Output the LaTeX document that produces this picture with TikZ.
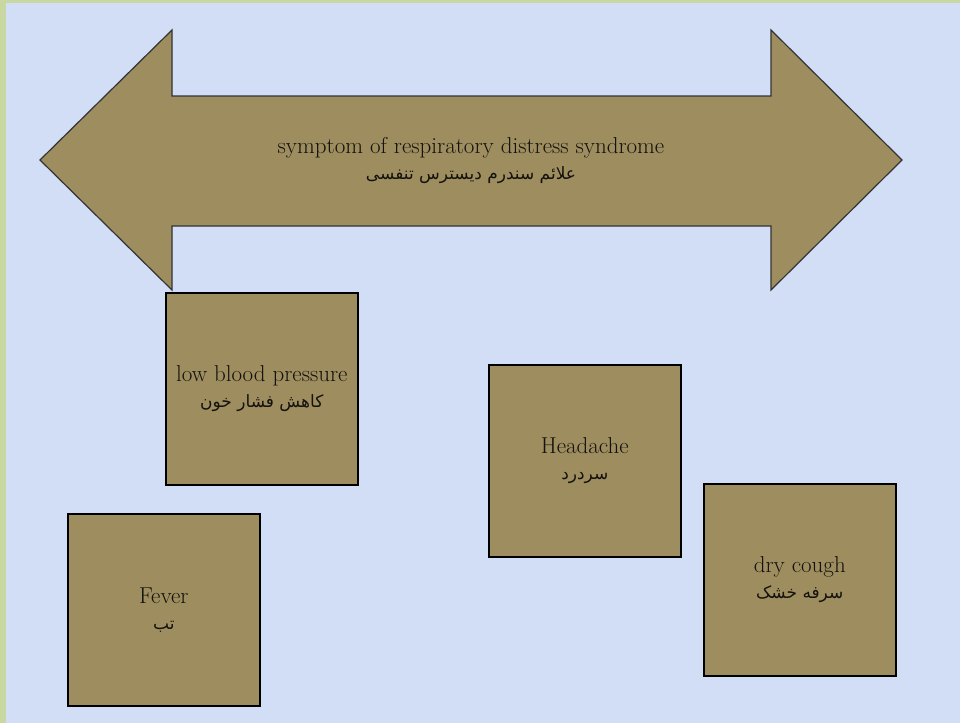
\documentclass[tikz,border=0pt]{standalone}
\usepackage{fontspec}
\newfontfamily\arabicfont[Script=Arabic]{DejaVu Sans}
\TeXXeTstate=1
\usetikzlibrary{positioning}
\definecolor{framegreen}{RGB}{200,216,160}
\definecolor{paper}{RGB}{210,222,245}
\definecolor{khaki}{RGB}{158,141,94}
\definecolor{ink}{RGB}{20,18,14}

\tikzset{
  symbox/.style={draw=black,line width=1.6pt,fill=khaki,minimum width=192pt,minimum height=192pt,
    anchor=north west,align=center,text=ink,inner sep=0pt,font=\fontsize{23}{26}\selectfont}
}
\newcommand{\fatext}[1]{{\arabicfont\fontsize{17}{26}\selectfont\beginR #1\endR}}

\begin{document}
\begin{tikzpicture}[x=1pt,y=-1pt]
\useasboundingbox (0,0) rectangle (960,723);
\fill[framegreen] (0,0) rectangle (960,723);
\fill[paper] (6,3) rectangle (960,723);
% double arrow
\draw[fill=khaki,draw=black!80,line width=1.2pt,line join=miter]
  (40,160) -- (172,30) -- (172,96) -- (771,96) -- (771,30) -- (902,160)
  -- (771,290) -- (771,226) -- (172,226) -- (172,290) -- cycle;
\node[align=center,text=ink,font=\fontsize{23}{26}\selectfont] (title) at (471,160)
  {symptom of respiratory distress syndrome\\ \fatext{علائم سندرم دیسترس تنفسی}};
% symptoms
\node[symbox] (pressure) at (165,292) {low blood pressure\\ \fatext{کاهش فشار خون}};
\node[symbox] (headache) at (488,364) {Headache\\ \fatext{سردرد}};
\node[symbox] (fever) at (67,513) {Fever\\ \fatext{تب}};
\node[symbox] (cough) at (703,483) {dry cough\\ \fatext{سرفه خشک}};
\end{tikzpicture}
\end{document}
